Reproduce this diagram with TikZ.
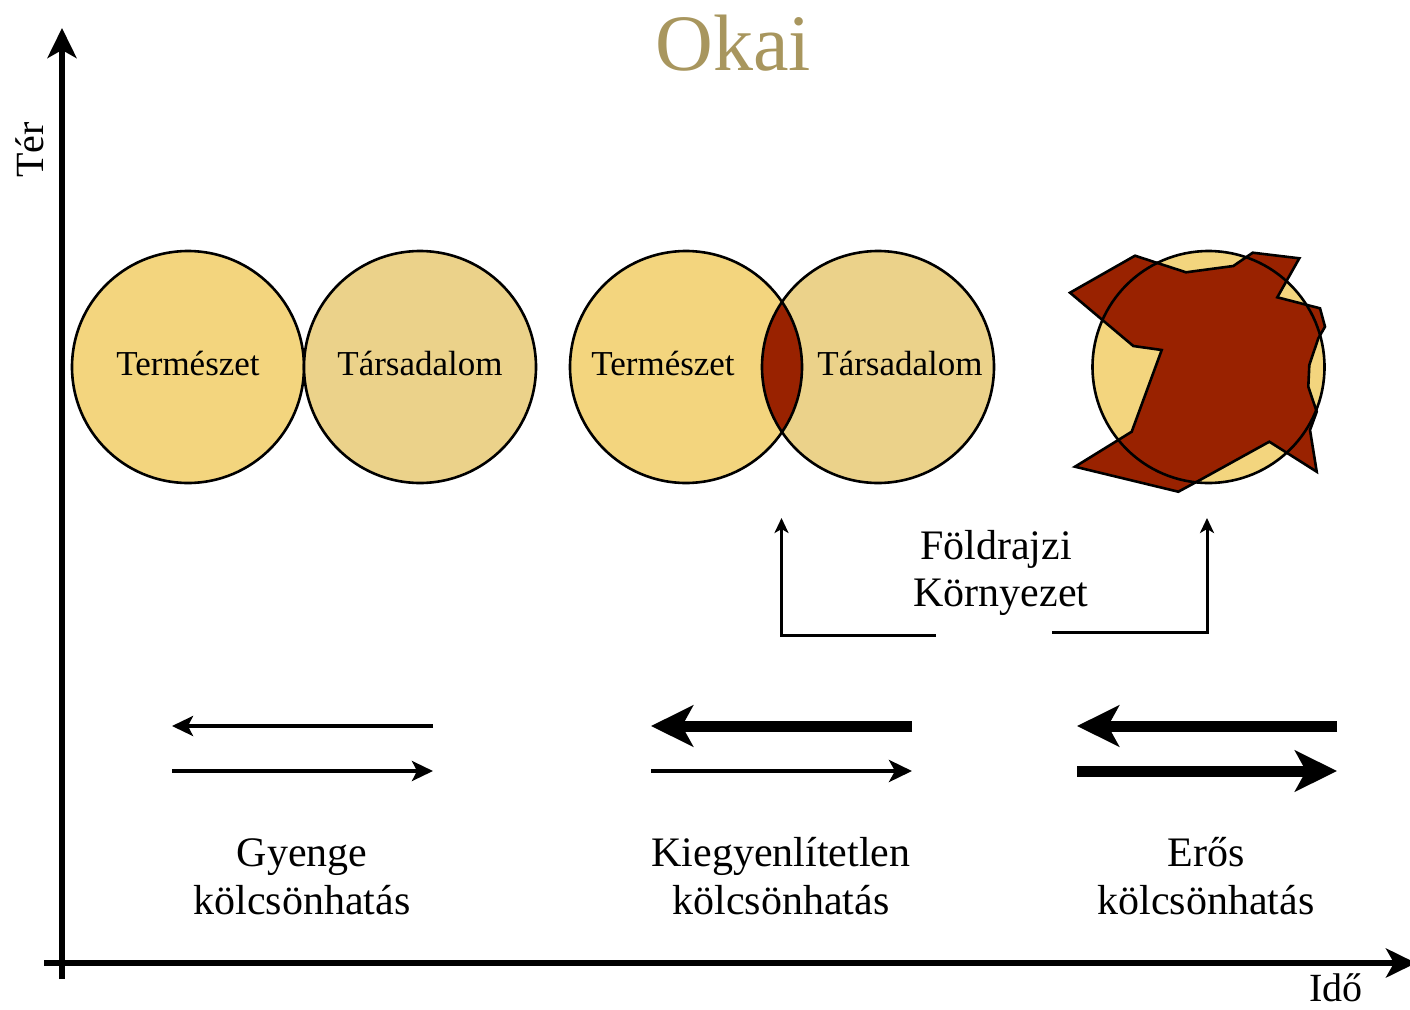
\documentclass[tikz,border=0pt]{standalone}
\usepackage{fontspec}
\setmainfont{Liberation Serif}
\usetikzlibrary{arrows.meta}
\definecolor{natfill}{HTML}{F3D57E}
\definecolor{socfill}{HTML}{EBD28A}
\definecolor{darkred}{HTML}{992200}
\definecolor{titlecol}{HTML}{A8965E}
\begin{document}
\begin{tikzpicture}[x=1pt,y=-1pt,
  circ/.style={circle, minimum size=232pt, inner sep=0pt, line width=2.6pt, draw=black},
  lbl/.style={font=\fontsize{35}{40}\selectfont, anchor=base, inner sep=0pt},
  big/.style={font=\fontsize{42}{48}\selectfont, anchor=base, inner sep=0pt},
  axis/.style={line width=5.5pt, -{Stealth[length=30pt,width=29pt,inset=8pt]}},
  bracket/.style={line width=3pt, -{Stealth[length=15pt,width=14pt,inset=4pt]}},
  thinarr/.style={line width=3.5pt, -{Stealth[length=21pt,width=20pt,inset=5pt]}},
  thickarr/.style={line width=11pt, -{Stealth[length=42pt,width=41pt,inset=11pt]}}]
\useasboundingbox (0,0) rectangle (1410,1009);

% title
\node[font=\fontsize{80}{90}\selectfont, text=titlecol, anchor=base, inner sep=0pt] (title) at (733,70) {Okai};

% axes
\coordinate (yb) at (62,979);
\coordinate (yt) at (62,28);
\coordinate (xl) at (44,963);
\coordinate (xr) at (1416,963);
\draw[axis] (yb) -- (yt);
\draw[axis] (xl) -- (xr);
\node[font=\fontsize{40}{44}\selectfont, rotate=90, inner sep=0pt] (ter) at (30,150) {Tér};
\node[font=\fontsize{40}{44}\selectfont, anchor=base, inner sep=0pt] (ido) at (1336,1001) {Idő};

% first pair
\node[circ, fill=natfill] (n1) at (188,367) {};
\node[circ, fill=socfill] (s1) at (420,367) {};
\node[lbl] (n1t) at (188,375) {Természet};
\node[lbl] (s1t) at (420,375) {Társadalom};

% second pair
\node[circ, draw=none, fill=natfill] (n2) at (686,367) {};
\node[circ, draw=none, fill=socfill] (s2) at (878,367) {};
\begin{scope}
  \clip (686,367) circle[radius=116pt];
  \fill[darkred] (878,367) circle[radius=116pt];
\end{scope}
\draw[line width=2.6pt] (686,367) circle[radius=116pt];
\draw[line width=2.6pt] (878,367) circle[radius=116pt];
\node[lbl] (n2t) at (663,375) {Természet};
\node[lbl] (s2t) at (900,375) {Társadalom};

% third: merged
\node[circ, draw=none, fill=natfill] (m3) at (1208.5,367) {};
\draw[line width=2.6pt, fill=darkred, line join=miter]
  (1070,292.7) -- (1135,255.7) -- (1186,272.3) -- (1233.3,266) -- (1252.7,252.7)
  -- (1299.3,258.3) -- (1277.3,297.3) -- (1320,308.3) -- (1325,326.7) -- (1318.3,338.3)
  -- (1309.3,365) -- (1308.3,386.7) -- (1316.7,411.7) -- (1310,430) -- (1316.7,471.7)
  -- (1269.3,441.7) -- (1200,480) -- (1178.3,491.7) -- (1075,466.7) -- (1131.7,431.7)
  -- (1161.7,350) -- (1133.3,346) -- cycle;
\draw[line width=2.6pt] (1208.5,367) circle[radius=116pt];

% Foldrajzi kornyezet bracket
\node[big] (fk1) at (996,559) {Földrajzi};
\node[big] (fk2) at (1001,606) {Környezet};
\coordinate (bl) at (936,635.5);
\coordinate (blt) at (781.5,518);
\coordinate (br) at (1052,632.5);
\coordinate (brt) at (1207,518);
\draw[bracket] (bl) -| (blt);
\draw[bracket] (br) -| (brt);

% interaction arrows
\coordinate (a1l) at (172,726);
\coordinate (a1r) at (433,726);
\coordinate (b1l) at (172,771);
\coordinate (b1r) at (433,771);
\draw[thinarr] (a1r) -- (a1l);
\draw[thinarr] (b1l) -- (b1r);

\coordinate (a2l) at (651,726);
\coordinate (a2r) at (912,726);
\coordinate (b2l) at (651,771);
\coordinate (b2r) at (912,771);
\draw[thickarr] (a2r) -- (a2l);
\draw[line width=4.5pt, -{Stealth[length=23pt,width=22pt,inset=6pt]}] (b2l) -- (b2r);

\coordinate (a3l) at (1077,726);
\coordinate (a3r) at (1337,726);
\coordinate (b3l) at (1077,771);
\coordinate (b3r) at (1337,771);
\draw[thickarr] (a3r) -- (a3l);
\draw[thickarr] (b3l) -- (b3r);

% labels
\node[big] (g1) at (302,866) {Gyenge};
\node[big] (g2) at (302,914) {kölcsönhatás};
\node[big] (k1) at (781,866) {Kiegyenlítetlen};
\node[big] (k2) at (781,914) {kölcsönhatás};
\node[big] (e1) at (1206,866) {Erős};
\node[big] (e2) at (1206,914) {kölcsönhatás};
\end{tikzpicture}
\end{document}
